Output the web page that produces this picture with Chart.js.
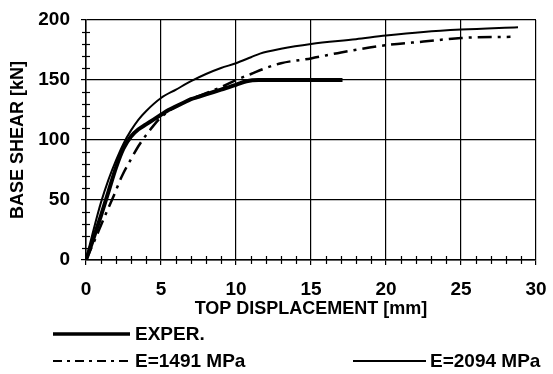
<!DOCTYPE html>
<html>
<head>
<meta charset="utf-8">
<script src="https://cdn.jsdelivr.net/npm/chart.js@4.4.1/dist/chart.umd.min.js"></script>
<style>
  html, body { margin: 0; padding: 0; background: #fff; }
  #wrap { width: 553px; height: 374px; position: relative; }
</style>
</head>
<body>
<div id="wrap"><canvas id="c" width="553" height="374"></canvas></div>
<script>
// ---- data ----
const xTicks = [0, 5, 10, 15, 20, 25, 30];
const yTicks = [0, 50, 100, 150, 200];
const seriesLabels = ["EXPER.", "E=1491 MPa", "E=2094 MPa"];

const experX = [0, 0.5, 1, 1.5, 2, 2.5, 3, 3.5, 4, 4.5, 5, 5.5, 6, 6.5, 7, 7.5, 8, 9, 10, 10.7, 11.5, 17.1];
const experY = [0, 18, 37, 57, 77, 93, 103, 109, 113, 117, 121, 125, 128, 131, 134, 136, 138, 142, 146, 149, 150, 150];

const e1491X = [0, 0.6, 1.2, 1.8, 2.4, 3, 3.5, 4, 4.5, 5, 5.5, 6, 6.5, 7, 8, 9, 10, 11, 12, 13, 15, 17, 20, 22.5, 25, 28.3];
const e1491Y = [0, 17, 35, 52, 70, 84, 95, 104, 112, 119, 124, 128, 131, 134, 139, 144, 150, 155, 160, 164, 168, 173, 179, 182, 185, 186];

const e2094X = [0, 0.5, 1, 1.5, 2, 2.5, 3, 3.5, 4, 5, 6, 7, 8, 9, 10, 11, 11.6, 13, 15, 18, 20, 22.5, 25, 28.8];
const e2094Y = [0, 25, 48, 67, 83, 97, 108, 117, 124, 135, 142, 149, 155, 160, 164, 169, 172, 176, 180, 184, 187, 190, 192, 194];

const FONT = "'Liberation Sans', Arial, sans-serif";

function pts(xs, ys) { return xs.map((x, i) => ({ x: x, y: ys[i] })); }

const minorTicks = {
  id: 'minorTicks',
  afterDatasetsDraw(chart) {
    const ctx = chart.ctx, xs = chart.scales.x, ys = chart.scales.y;
    const y0 = ys.getPixelForValue(0), x0 = xs.getPixelForValue(0);
    ctx.save();
    ctx.strokeStyle = '#000';
    ctx.lineWidth = 1.2;
    for (let v = 1; v < 30; v++) {
      if (v % 5 === 0) continue;
      const px = Math.round(xs.getPixelForValue(v)) + 0.5;
      ctx.beginPath(); ctx.moveTo(px, y0 - 4); ctx.lineTo(px, y0 + 4); ctx.stroke();
    }
    for (let v = 10; v < 200; v += 10) {
      if (v % 50 === 0) continue;
      const py = Math.round(ys.getPixelForValue(v)) + 0.5;
      ctx.beginPath(); ctx.moveTo(x0 - 4, py); ctx.lineTo(x0 + 4, py); ctx.stroke();
    }
    ctx.restore();
  }
};

const customLegend = {
  id: 'customLegend',
  afterDraw(chart) {
    const ctx = chart.ctx;
    const ds = chart.data.datasets;
    const items = [
      { d: ds[0], x1: 53, x2: 130, y: 334, tx: 135 },
      { d: ds[1], x1: 53, x2: 130, y: 361, tx: 135 },
      { d: ds[2], x1: 353, x2: 426, y: 361, tx: 430 }
    ];
    ctx.save();
    items.forEach(it => {
      ctx.strokeStyle = '#000';
      ctx.lineWidth = it.d.legendWidth;
      ctx.setLineDash(it.d.legendDash || []);
      ctx.beginPath(); ctx.moveTo(it.x1, it.y); ctx.lineTo(it.x2, it.y); ctx.stroke();
      ctx.setLineDash([]);
      ctx.fillStyle = '#000';
      ctx.font = 'bold 19px ' + FONT;
      ctx.textBaseline = 'middle';
      ctx.textAlign = 'left';
      ctx.fillText(it.d.label, it.tx, it.y + 1);
    });
    ctx.restore();
  }
};

new Chart(document.getElementById('c'), {
  type: 'scatter',
  data: {
    datasets: [
      { label: seriesLabels[0], data: pts(experX, experY), showLine: true, borderColor: '#000',
        borderWidth: 4, pointRadius: 0, cubicInterpolationMode: 'monotone', legendWidth: 3.5 },
      { label: seriesLabels[1], data: pts(e1491X, e1491Y), showLine: true, borderColor: '#000',
        borderWidth: 2.5, borderDash: [14, 6, 3, 6], pointRadius: 0, cubicInterpolationMode: 'monotone',
        legendWidth: 2, legendDash: [9, 5, 3, 5] },
      { label: seriesLabels[2], data: pts(e2094X, e2094Y), showLine: true, borderColor: '#000',
        borderWidth: 2, pointRadius: 0, cubicInterpolationMode: 'monotone', legendWidth: 2 }
    ]
  },
  options: {
    responsive: false,
    animation: false,
    devicePixelRatio: 1,
    layout: { padding: { top: 20, right: 17, bottom: 54, left: 0 } },
    plugins: { legend: { display: false }, tooltip: { enabled: false } },
    scales: {
      x: {
        type: 'linear', min: 0, max: 30,
        afterBuildTicks: s => { s.ticks = xTicks.map(v => ({ value: v })); },
        afterFit: s => { s.height = 60; s.paddingLeft = 0; s.paddingRight = 0; },
        grid: { color: '#000', lineWidth: 1.2, tickLength: 5, tickColor: '#000' },
        border: { color: '#000', width: 1.5 },
        ticks: { color: '#000', font: { family: FONT, size: 19, weight: 'bold' }, padding: 13, maxRotation: 0 },
        title: { display: true, text: 'TOP DISPLACEMENT [mm]', color: '#000',
                 font: { family: FONT, size: 18, weight: 'bold' }, padding: { top: -6, bottom: 0 } }
      },
      y: {
        type: 'linear', min: 0, max: 200,
        afterBuildTicks: s => { s.ticks = yTicks.map(v => ({ value: v })); },
        afterFit: s => { s.width = 86; s.paddingTop = 0; s.paddingBottom = 0; },
        grid: { color: '#000', lineWidth: 1.2, tickLength: 5, tickColor: '#000' },
        border: { color: '#000', width: 1.5 },
        ticks: { color: '#000', font: { family: FONT, size: 19, weight: 'bold' }, padding: 11 },
        title: { display: true, text: 'BASE SHEAR [kN]', color: '#000',
                 font: { family: FONT, size: 18, weight: 'bold' }, padding: { top: 7, bottom: 0 } }
      }
    }
  },
  plugins: [minorTicks, customLegend]
});
</script>
</body>
</html>
